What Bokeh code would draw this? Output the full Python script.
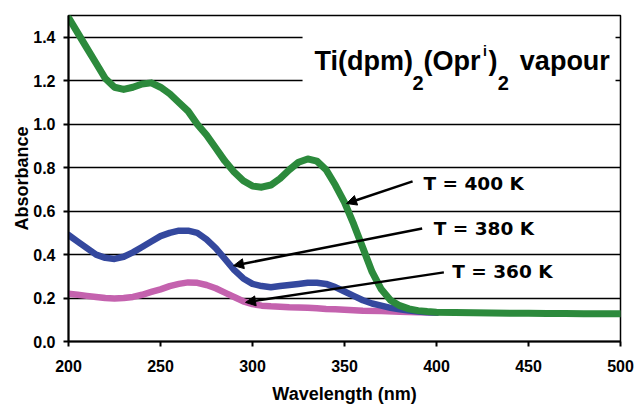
from bokeh.plotting import figure
from bokeh.models import (Range1d, FixedTicker, NumeralTickFormatter, Label, Arrow,
                          NormalHead, BoxAnnotation, ColumnDataSource)
from bokeh.core.properties import value
from bokeh.embed import file_html
from bokeh.resources import INLINE

# ---------------- data ----------------
wl_400 = [200, 205, 210, 215, 220, 225, 230, 235, 240, 245, 250, 255, 260, 265, 270, 275,
          280, 285, 290, 295, 300, 305, 310, 315, 320, 325, 330, 335, 340, 345, 350, 355,
          360, 365, 370, 375, 380, 385, 390, 395, 400, 410, 420, 430, 440, 450, 460, 470,
          480, 490, 500]
abs_400 = [1.49, 1.42, 1.35, 1.28, 1.21, 1.17, 1.16, 1.17, 1.185, 1.19, 1.17, 1.14, 1.10,
           1.06, 1.00, 0.95, 0.89, 0.83, 0.78, 0.74, 0.715, 0.71, 0.72, 0.75, 0.79, 0.825,
           0.84, 0.83, 0.79, 0.72, 0.64, 0.54, 0.43, 0.32, 0.24, 0.19, 0.165, 0.15, 0.142,
           0.138, 0.135, 0.133, 0.132, 0.131, 0.130, 0.130, 0.129, 0.129, 0.128, 0.128, 0.128]

wl_380 = [200, 205, 210, 215, 220, 225, 230, 235, 240, 245, 250, 255, 260, 265, 270, 275,
          280, 285, 290, 295, 300, 305, 310, 315, 320, 325, 330, 335, 340, 345, 350, 355,
          360, 365, 370, 375, 380, 385, 390, 395, 400]
abs_380 = [0.49, 0.46, 0.43, 0.40, 0.385, 0.38, 0.39, 0.41, 0.435, 0.46, 0.485, 0.50, 0.51,
           0.51, 0.50, 0.47, 0.43, 0.38, 0.33, 0.29, 0.265, 0.255, 0.25, 0.255, 0.26, 0.265,
           0.27, 0.27, 0.265, 0.25, 0.23, 0.21, 0.19, 0.175, 0.165, 0.155, 0.148, 0.142,
           0.138, 0.135, 0.133]

wl_360 = [200, 205, 210, 215, 220, 225, 230, 235, 240, 245, 250, 255, 260, 265, 270, 275,
          280, 285, 290, 295, 300, 305, 310, 315, 320, 325, 330, 335, 340, 345, 350, 355,
          360, 370, 380, 390, 400]
abs_360 = [0.22, 0.215, 0.21, 0.205, 0.20, 0.198, 0.20, 0.205, 0.215, 0.228, 0.24, 0.255,
           0.265, 0.272, 0.27, 0.26, 0.245, 0.225, 0.205, 0.185, 0.172, 0.165, 0.162, 0.16,
           0.158, 0.157, 0.155, 0.153, 0.15, 0.148, 0.146, 0.144, 0.142, 0.14, 0.137, 0.135,
           0.133]

x_ticks = [200, 250, 300, 350, 400, 450, 500]
y_ticks = [0.0, 0.2, 0.4, 0.6, 0.8, 1.0, 1.2, 1.4]

temp_labels = ["T = 400 K", "T = 380 K", "T = 360 K"]
temp_label_x = [392.9, 398.5, 408.5]
temp_label_y = [0.728, 0.520, 0.322]
arrow_x0 = [387.0, 392.2, 404.0]
arrow_y0 = [0.737, 0.520, 0.318]
arrow_x1 = [351.1, 289.7, 296.2]
arrow_y1 = [0.635, 0.349, 0.180]

title_parts = ["Ti(dpm)", "2", "(Opr", "i", ")", "2", "vapour"]
title_x = [333.7, 387.0, 393.0, 425.3, 428.2, 433.3, 445.3]
title_y = [1.289, 1.188, 1.289, 1.338, 1.289, 1.188, 1.289]
title_size = ["27px", "20px", "27px", "14px", "27px", "20px", "27px"]
title_style = ["bold", "bold", "bold", "bold", "bold", "bold", "bold"]

GREEN = "#2c8a3c"
BLUE = "#34489e"
PINK = "#c462ae"

# ---------------- figure ----------------
p = figure(width=635, height=406, output_backend="svg", toolbar_location=None,
           x_range=Range1d(200, 500), y_range=Range1d(0, 1.5),
           min_border_left=68, min_border_right=15, min_border_top=15, min_border_bottom=65)
p.background_fill_color = "white"
p.border_fill_color = "white"
p.outline_line_color = "black"
p.outline_line_width = 1.5

p.xgrid.grid_line_color = None
p.ygrid.grid_line_color = "black"
p.ygrid.grid_line_width = 1.5
p.ygrid.ticker = FixedTicker(ticks=y_ticks)

for ax in (p.xaxis[0], p.yaxis[0]):
    ax.axis_line_color = "black"
    ax.axis_line_width = 2
    ax.major_tick_line_color = "black"
    ax.major_tick_line_width = 2
    ax.major_tick_out = 5
    ax.major_tick_in = 0
    ax.minor_tick_line_color = None
    ax.major_label_text_font = "Liberation Sans"
    ax.major_label_text_font_style = "bold"
    ax.major_label_text_font_size = "16px"
    ax.major_label_text_color = "black"
    ax.axis_label_text_font = "Liberation Sans"
    ax.axis_label_text_font_style = "bold"
    ax.axis_label_text_font_size = "18px"
    ax.axis_label_text_color = "black"

p.xaxis.ticker = FixedTicker(ticks=x_ticks)
p.yaxis.ticker = FixedTicker(ticks=y_ticks)
p.yaxis.formatter = NumeralTickFormatter(format="0.0")
p.xaxis.axis_label = "Wavelength (nm)"
p.yaxis.axis_label = "Absorbance"
p.xaxis.major_label_standoff = 13
p.xaxis.axis_label_standoff = 9
p.yaxis.major_label_standoff = 8
p.yaxis.axis_label_standoff = -2

# title background box
p.add_layout(BoxAnnotation(left=327.2, right=497.3, bottom=1.10, top=1.45,
                           fill_color="white", fill_alpha=1.0, line_alpha=0))

# curves
p.line(wl_360, abs_360, line_color=PINK, line_width=6.5, line_cap="round", line_join="round")
p.line(wl_380, abs_380, line_color=BLUE, line_width=6.5, line_cap="round", line_join="round")
p.line(wl_400, abs_400, line_color=GREEN, line_width=7, line_cap="round", line_join="round")

# arrows
for xs, ys, xe, ye in zip(arrow_x0, arrow_y0, arrow_x1, arrow_y1):
    p.add_layout(Arrow(x_start=xs, y_start=ys, x_end=xe, y_end=ye,
                       line_color="black", line_width=2.5,
                       end=NormalHead(size=10, fill_color="black", line_color="black")))

# temperature labels
src = ColumnDataSource(dict(x=temp_label_x, y=temp_label_y, t=temp_labels))
p.text(x="x", y="y", text="t", source=src, text_font=value("DejaVu Sans"),
       text_font_style="bold", text_font_size="18.5px", text_color="black",
       text_baseline="middle", text_align="left")

# title
for t, x, y, s, st in zip(title_parts, title_x, title_y, title_size, title_style):
    p.add_layout(Label(x=x, y=y, text=t, text_font="Liberation Sans", text_font_style=st,
                       text_font_size=s, text_color="black",
                       text_baseline="middle", text_align="left"))

open("out.html", "w").write(file_html(p, INLINE))
